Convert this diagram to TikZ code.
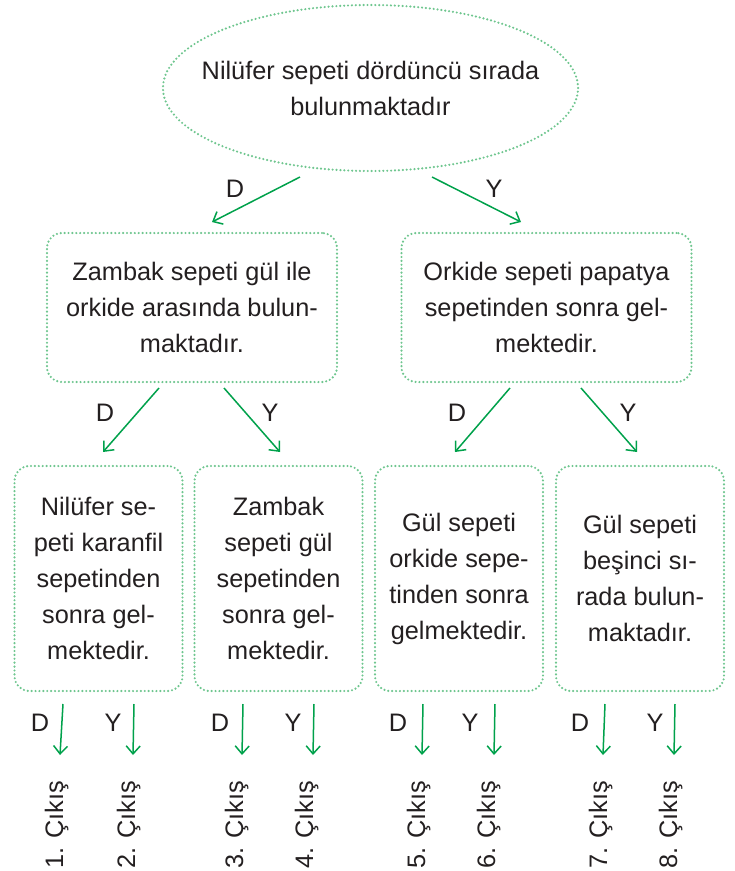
\documentclass[tikz,border=0pt]{standalone}
\usepackage{fontspec}
\setmainfont{Liberation Sans}
\usetikzlibrary{arrows.meta, shapes.geometric}
\definecolor{cDot}{HTML}{6FC68F}
\definecolor{cArrow}{HTML}{00A14B}
\definecolor{cText}{HTML}{231F20}

\begin{document}
\begin{tikzpicture}[x=1pt, y=-1pt,
  every node/.style={text=cText, font=\fontsize{25.3}{36}\selectfont},
  dotline/.style={draw=cDot, line width=2.4pt, line cap=round,
                  dash pattern=on 0pt off 3.9pt},
  question/.style={dotline, ellipse, minimum width=415pt, minimum height=166pt,
                   align=center, inner xsep=-22pt, inner ysep=0pt},
  widebox/.style={dotline, rectangle, rounded corners=15pt, minimum width=290pt,
                  minimum height=149pt, align=center, inner sep=0pt},
  tallbox/.style={dotline, rectangle, rounded corners=15pt, minimum width=168pt,
                  minimum height=225pt, align=center, inner sep=0pt},
  arr/.style={-{Straight Barb[length=8pt, width=14pt]}, line width=1.5pt, color=cArrow},
  lbl/.style={anchor=base, inner sep=0pt},
  exit/.style={rotate=90, anchor=base west, inner sep=0pt},
]
\useasboundingbox (0,0) rectangle (735,871);

% ---- Level 1 (top) ----
\node[question] (q) at (370.5,88) {Nilüfer sepeti dördüncü sırada\\bulunmaktadır};

% ---- Level 2 ----
\node[widebox] (qd) at (192,307.5) {Zambak sepeti gül ile\\orkide arasında bulun-\\maktadır.};
\node[widebox] (qy) at (546.5,307.5) {Orkide sepeti papatya\\sepetinden sonra gel-\\mektedir.};

\coordinate (qds) at (300,177);  \coordinate (qde) at (212,222);
\coordinate (qys) at (432,177);  \coordinate (qye) at (521,222);
\draw[arr] (qds) -- (qde);
\draw[arr] (qys) -- (qye);
\node[lbl] (lqd) at (235,197) {D};
\node[lbl] (lqy) at (494,197) {Y};

% ---- Level 3 ----
\node[tallbox] (c1) at (98.5,578.5) {Nilüfer se-\\peti karanfil\\sepetinden\\sonra gel-\\mektedir.};
\node[tallbox] (c2) at (278.5,578.5) {Zambak\\sepeti gül\\sepetinden\\sonra gel-\\mektedir.};
\node[tallbox] (c3) at (459,578.5) {Gül sepeti\\orkide sepe-\\tinden sonra\\gelmektedir.};
\node[tallbox] (c4) at (640,578.5) {Gül sepeti\\beşinci sı-\\rada bulun-\\maktadır.};

\coordinate (d1s) at (159,388);  \coordinate (d1e) at (103,452);
\coordinate (d2s) at (224,388);  \coordinate (d2e) at (280,452);
\coordinate (d3s) at (510,388);  \coordinate (d3e) at (455,452);
\coordinate (d4s) at (581,388);  \coordinate (d4e) at (637,452);
\foreach \i in {1,...,4}
  \draw[arr] (d\i s) -- (d\i e);
\node[lbl] (ld1) at (105,421) {D};
\node[lbl] (ld2) at (270,421) {Y};
\node[lbl] (ld3) at (457,421) {D};
\node[lbl] (ld4) at (628,421) {Y};

% ---- Exits (bottom) ----
\foreach \i/\xa/\xb/\lab/\lx/\ex in {1/63/60/D/40/63, 2/134/133/Y/113/135,
    3/243/242/D/220/243, 4/314/313/Y/293/313, 5/423/422/D/398/425,
    6/495/494/Y/470/495, 7/605/603/D/580/607, 8/675/674/Y/655/677} {
  \coordinate (s\i) at (\xa,704);
  \coordinate (e\i) at (\xb,755);
  \draw[arr] (s\i) -- (e\i);
  \node[lbl] (l\i) at (\lx,731) {\lab};
  \node[exit] (x\i) at (\ex,869) {\i. Çıkış};
}

\end{tikzpicture}
\end{document}
